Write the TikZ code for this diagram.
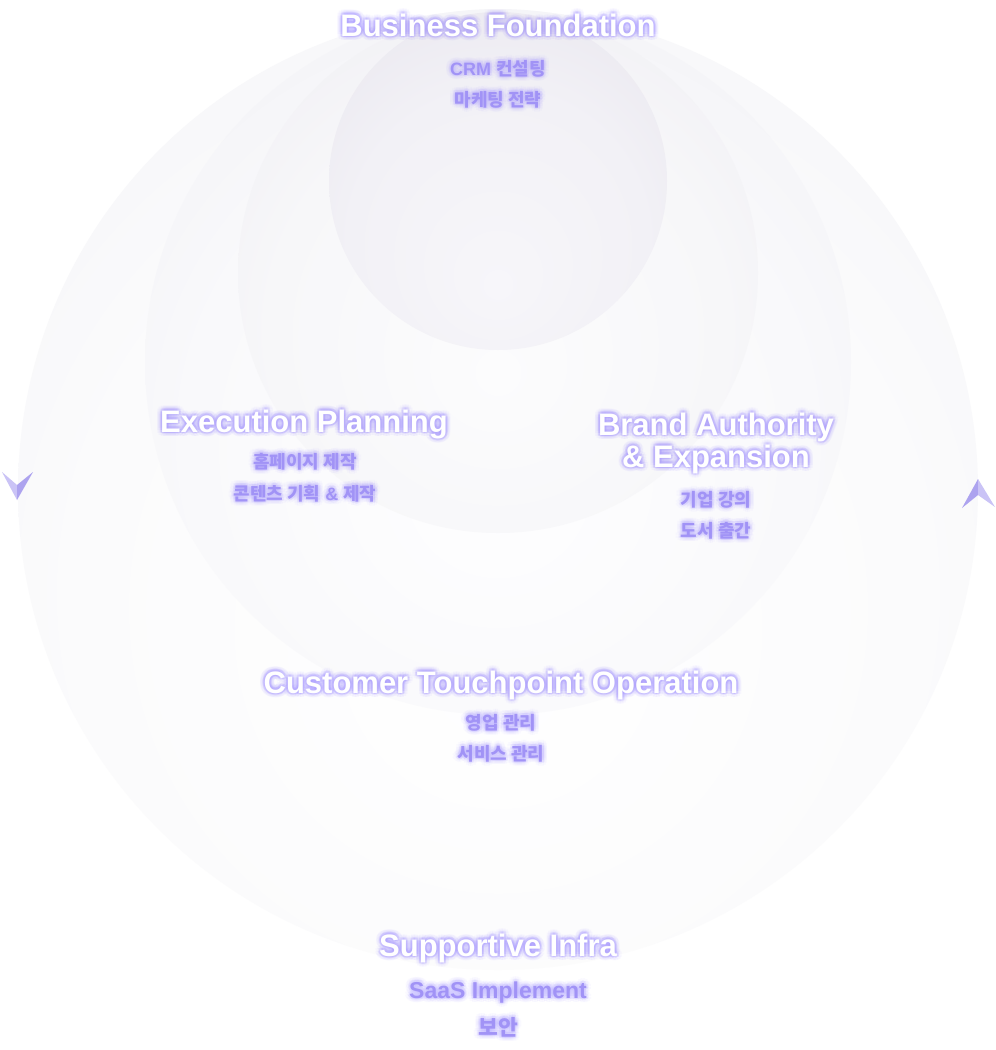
\documentclass[tikz,border=0pt]{standalone}
\usepackage{fontspec}
\setmainfont{Liberation Sans}
\newfontfamily\kr{Noto Sans CJK KR}
\definecolor{glowA}{HTML}{A99AFF}
\definecolor{glowB}{HTML}{C2B8FF}
\definecolor{subc}{HTML}{A193F6}
\definecolor{arrL}{HTML}{CAC3F6}
\definecolor{arrD}{HTML}{ADA3EF}
\definecolor{a0}{HTML}{FFFFFF}\definecolor{a1}{HTML}{FBFBFC}\definecolor{a2}{HTML}{F5F5F8}\definecolor{a3}{HTML}{EDECF2}\definecolor{a4}{HTML}{E4E2EA}
\definecolor{b0}{HTML}{FEFEFF}\definecolor{b1}{HTML}{F9F9FB}\definecolor{b2}{HTML}{F2F2F6}\definecolor{b3}{HTML}{E9E7EF}\definecolor{b4}{HTML}{DFDCE7}
\definecolor{c0}{HTML}{FCFCFD}\definecolor{c1}{HTML}{F7F7F9}\definecolor{c2}{HTML}{F0EFF4}\definecolor{c3}{HTML}{E6E4ED}\definecolor{c4}{HTML}{DBD8E4}
\definecolor{d0}{HTML}{F7F6FA}\definecolor{d1}{HTML}{F2F1F6}\definecolor{d2}{HTML}{EBE9F0}\definecolor{d3}{HTML}{E2E0E9}\definecolor{d4}{HTML}{D7D3E0}
\pgfdeclareradialshading{orbA}{\pgfpoint{0bp}{-10bp}}{color(0bp)=(a0); color(22bp)=(a1); color(34bp)=(a2); color(44bp)=(a3); color(50bp)=(a4)}
\pgfdeclareradialshading{orbB}{\pgfpoint{0bp}{-10bp}}{color(0bp)=(b0); color(22bp)=(b1); color(34bp)=(b2); color(44bp)=(b3); color(50bp)=(b4)}
\pgfdeclareradialshading{orbC}{\pgfpoint{0bp}{-10bp}}{color(0bp)=(c0); color(22bp)=(c1); color(34bp)=(c2); color(44bp)=(c3); color(50bp)=(c4)}
\pgfdeclareradialshading{orbD}{\pgfpoint{0bp}{-16bp}}{color(0bp)=(d0); color(22bp)=(d1); color(34bp)=(d2); color(44bp)=(d3); color(50bp)=(d4)}
\tikzset{
  ttl/.style={font=\bfseries\fontsize{31bp}{32bp}\selectfont, text=white, inner sep=0pt, anchor=base, align=center},
  sub/.style={font=\bfseries\fontsize{18bp}{20bp}\selectfont, text=subc, inner sep=0pt, anchor=base},
  subL/.style={font=\bfseries\fontsize{21.5bp}{24bp}\selectfont, text=subc, inner sep=0pt, anchor=base},
  subS/.style={font=\bfseries\fontsize{23bp}{24bp}\selectfont, text=subc, inner sep=0pt, anchor=base},
}
% soft glow: faint lavender copies around the text, then the text itself
\newcommand{\glowtext}[5]{% #1 name, #2 position, #3 style, #4 glow colour, #5 text
  \foreach \ang in {0,30,...,330}{
    \node[#3, text=#4, text opacity=0.15, shift={(\ang:2.2)}] at #2 {#5};
    \node[#3, text=#4, text opacity=0.07, shift={(\ang+15:5)}] at #2 {#5};
  }
  \node[#3] (#1) at #2 {#5};
}
\begin{document}
\begin{tikzpicture}[x=1bp,y=-1bp]
\useasboundingbox (0,0) rectangle (996,1050);
\fill[white] (0,0) rectangle (996,1050);
% nested circles
\shade[shading=orbA] (498,490) circle (480);
\shade[shading=orbB] (498,362) circle (353);
\shade[shading=orbC] (498,273) circle (260);
\shade[shading=orbD] (498,181) circle (169);
% direction markers on the outer circle
\fill[arrL] (17,500) -- (2,472) -- (17,485) -- cycle;
\fill[arrD] (17,500) -- (17,485) -- (33,472) -- cycle;
\fill[arrD] (978,479) -- (962,508) -- (978,495) -- cycle;
\fill[arrL] (978,479) -- (978,495) -- (995,507) -- cycle;
% titles and items
\glowtext{bf}{(498,36)}{ttl}{glowA}{Business Foundation}
\glowtext{bf1}{(498,75)}{sub}{glowB}{CRM {\kr 컨설팅}}
\glowtext{bf2}{(498,106)}{sub}{glowB}{\kr 마케팅 전략}
\glowtext{ep}{(304,432)}{ttl}{glowA}{Execution Planning}
\glowtext{ep1}{(305,468)}{sub}{glowB}{\kr 홈페이지 제작}
\glowtext{ep2}{(305,500)}{sub}{glowB}{{\kr 콘텐츠 기획} \& {\kr 제작}}
\glowtext{ba}{(716,467)}{ttl}{glowA}{Brand Authority\\\& Expansion}
\glowtext{ba1}{(716,506)}{sub}{glowB}{\kr 기업 강의}
\glowtext{ba2}{(716,537)}{sub}{glowB}{\kr 도서 출간}
\glowtext{ct}{(501,693)}{ttl}{glowA}{Customer Touchpoint Operation}
\glowtext{ct1}{(501,729)}{sub}{glowB}{\kr 영업 관리}
\glowtext{ct2}{(501,760)}{sub}{glowB}{\kr 서비스 관리}
\glowtext{si}{(498,956)}{ttl}{glowA}{Supportive Infra}
\glowtext{si1}{(498,998)}{subS}{glowB}{SaaS Implement}
\glowtext{si2}{(498,1035)}{subL}{glowB}{\kr 보안}
\end{tikzpicture}
\end{document}
